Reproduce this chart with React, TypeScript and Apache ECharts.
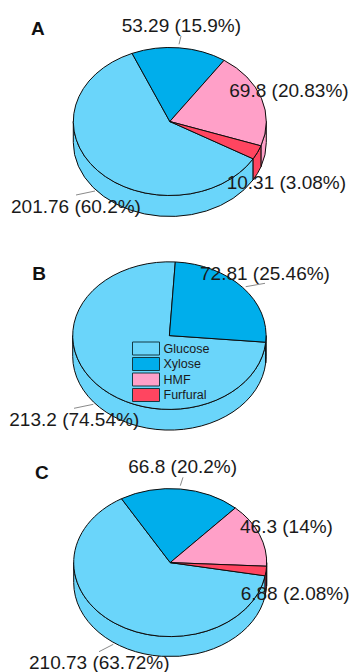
import React, { useEffect, useRef } from "react";
import * as echarts from "echarts";

// Sugar and by-product amounts for the three samples (A, B, C).
const panels = ["A", "B", "C"];
const categories = ["Glucose", "Xylose", "HMF", "Furfural"];
const glucose = [201.76, 213.2, 210.73];
const xylose = [53.29, 72.81, 66.8];
const hmf = [69.8, 0, 46.3];
const furfural = [10.31, 0, 6.88];
const glucosePct = ["60.2", "74.54", "63.72"];
const xylosePct = ["15.9", "25.46", "20.2"];
const hmfPct = ["20.83", "", "14"];
const furfuralPct = ["3.08", "", "2.08"];

const seriesValues = [glucose, xylose, hmf, furfural];
const seriesPcts = [glucosePct, xylosePct, hmfPct, furfuralPct];
const colors = ["#6AD5FA", "#00AEEB", "#FFA0C8", "#FF4560"];

// Slices run clockwise in this order, from the panel's start angle.
const clockwiseOrder = [1, 2, 3, 0];

// Disc placement for each panel.
const discs = [
  { cx: 169.8, cy: 121.5, rx: 96.5, ry: 74, depth: 21, start: -23 },
  { cx: 169.4, cy: 335.6, rx: 96.7, ry: 73.8, depth: 20.7, start: 3.5 },
  { cx: 170.2, cy: 562.6, rx: 96.5, ry: 74, depth: 20, start: -30.3 },
];

// Where each value label sits: [category, panel, left, middle].
const labelPlacement: [number, number, number, number][] = [
  [1, 0, 121.7, 25.7],
  [2, 0, 229.3, 90.7],
  [3, 0, 226.7, 182],
  [0, 0, 11, 206],
  [1, 1, 200, 273.3],
  [0, 1, 9.3, 419],
  [1, 2, 128.3, 466.7],
  [2, 2, 240, 526],
  [3, 2, 240.7, 593.3],
  [0, 2, 29, 662],
];

const leaderLines = [
  [179, 44.3, 181, 36],
  [76, 195, 95, 191],
  [245.7, 286.7, 265, 283.3],
  [74, 408.3, 93.3, 404.3],
  [180.3, 485.7, 183, 477.3],
  [99, 651.7, 113.3, 644.3],
];

const panelLetters: [number, number][] = [
  [31, 28],
  [32.3, 273.3],
  [35, 472.7],
];

const FONT = '"Liberation Sans", Arial, sans-serif';
const INK = "#1a1a1a";

// Angular span of one category's slice, in degrees clockwise from 12 o'clock.
function sliceSpan(panel: number, category: number): [number, number] {
  const total = seriesValues.reduce((sum, v) => sum + v[panel], 0);
  let angle = discs[panel].start;
  for (const c of clockwiseOrder) {
    const sweep = (seriesValues[c][panel] / total) * 360;
    if (c === category) return [angle, angle + sweep];
    angle += sweep;
  }
  return [angle, angle];
}

function rimPoint(panel: number, deg: number, drop = 0): string {
  const d = discs[panel];
  const t = (deg * Math.PI) / 180;
  const x = d.cx + d.rx * Math.sin(t);
  const y = d.cy - d.ry * Math.cos(t) + drop;
  return `${x.toFixed(2)} ${y.toFixed(2)}`;
}

function topPath(panel: number, a: number, b: number): string {
  const d = discs[panel];
  const large = b - a > 180 ? 1 : 0;
  return `M ${d.cx} ${d.cy} L ${rimPoint(panel, a)} A ${d.rx} ${d.ry} 0 ${large} 1 ${rimPoint(panel, b)} Z`;
}

// The rim is only visible along the front half of the disc (90° to 270°).
function wallPath(panel: number, a: number, b: number): string | null {
  const d = discs[panel];
  const shift = a < 0 ? 360 : 0;
  const from = Math.max(a + shift, 90);
  const to = Math.min(b + shift, 270);
  if (to <= from) return null;
  return (
    `M ${rimPoint(panel, from)} A ${d.rx} ${d.ry} 0 0 1 ${rimPoint(panel, to)} ` +
    `L ${rimPoint(panel, to, d.depth)} A ${d.rx} ${d.ry} 0 0 0 ${rimPoint(panel, from, d.depth)} Z`
  );
}

function makeRenderItem(category: number) {
  return (_params: any, api: any) => {
    const panel = api.value(0);
    const value = api.value(1);
    if (!value) return { type: "group", children: [] };
    const [a, b] = sliceSpan(panel, category);
    const style = {
      fill: colors[category],
      stroke: "#0d0d0d",
      lineWidth: 1,
      lineJoin: "round",
    };
    const children: any[] = [];
    const wall = wallPath(panel, a, b);
    if (wall) children.push({ type: "path", shape: { pathData: wall }, style });
    children.push({ type: "path", shape: { pathData: topPath(panel, a, b) }, style });
    return { type: "group", children };
  };
}

function buildGraphics() {
  const elements: any[] = [];
  leaderLines.forEach(([x1, y1, x2, y2]) => {
    elements.push({
      type: "line",
      z: 20,
      shape: { x1, y1, x2, y2 },
      style: { stroke: "#8a8a8a", lineWidth: 1 },
    });
  });
  labelPlacement.forEach(([category, panel, x, y]) => {
    elements.push({
      type: "text",
      z: 30,
      x,
      y,
      style: {
        text: `${seriesValues[category][panel]} (${seriesPcts[category][panel]}%)`,
        font: `19px ${FONT}`,
        fill: INK,
        verticalAlign: "middle",
      },
    });
  });
  panelLetters.forEach(([x, y], i) => {
    elements.push({
      type: "text",
      z: 30,
      x,
      y,
      style: {
        text: panels[i],
        font: `bold 19px ${FONT}`,
        fill: "#111111",
        verticalAlign: "middle",
      },
    });
  });
  return elements;
}

export default function App() {
  const ref = useRef<HTMLDivElement>(null);

  useEffect(() => {
    if (!ref.current) return;
    const chart = echarts.init(ref.current, undefined, { renderer: "svg" });
    chart.setOption({
      animation: false,
      backgroundColor: "#ffffff",
      legend: {
        data: categories,
        orient: "vertical",
        left: 132,
        top: 341.5,
        padding: 0,
        itemWidth: 27,
        itemHeight: 13,
        itemGap: 1.5,
        icon: "rect",
        selectedMode: false,
        itemStyle: { borderColor: "#123a44", borderWidth: 1 },
        textStyle: { fontFamily: FONT, fontSize: 12.5, color: INK, padding: [0, 0, 0, -1], lineHeight: 13 },
      },
      series: categories.map((name, category) => ({
        type: "custom",
        name,
        coordinateSystem: "none",
        itemStyle: { color: colors[category] },
        renderItem: makeRenderItem(category),
        data: panels.map((_, panel) => [panel, seriesValues[category][panel]]),
      })),
      graphic: { elements: buildGraphics() },
    });
    return () => chart.dispose();
  }, []);

  return <div ref={ref} style={{ position: "fixed", left: 0, top: 0, width: 349, height: 672 }} />;
}
